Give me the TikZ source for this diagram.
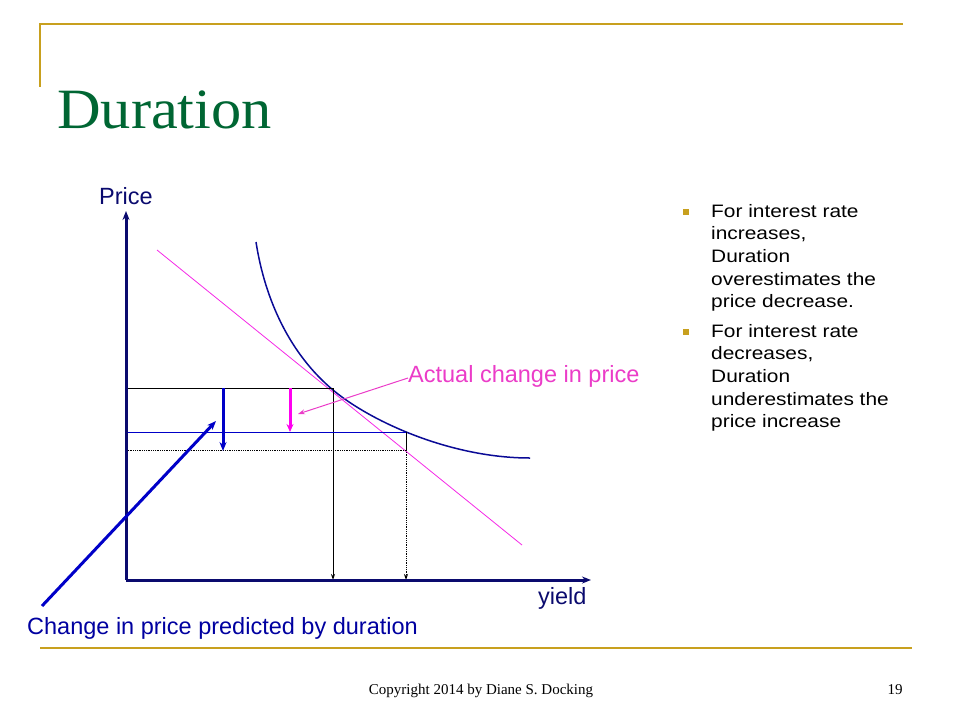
\documentclass[tikz,border=0pt]{standalone}
\usepackage{fontspec}
\setmainfont{Liberation Serif}
\newfontfamily\arialfont{Liberation Sans}
\newfontfamily\bulletfont[FakeStretch=1.16]{Liberation Sans}
\newfontfamily\titlefont[FakeStretch=1.06]{Liberation Serif}
\usetikzlibrary{arrows.meta}
\definecolor{gold}{RGB}{200,160,30}
\definecolor{titlegreen}{RGB}{0,102,51}
\definecolor{axisnavy}{RGB}{10,10,110}
\definecolor{curveblue}{RGB}{10,10,150}
\definecolor{brightblue}{RGB}{0,0,200}
\definecolor{labelblue}{RGB}{0,0,160}
\definecolor{pinkline}{RGB}{245,40,230}
\definecolor{labelpink}{RGB}{235,60,200}
\definecolor{magentaarrow}{RGB}{255,0,240}
\tikzset{
  goldline/.style={draw=gold, line width=2pt},
  axisline/.style={draw=axisnavy, line width=3pt, -{Stealth[length=9pt,width=7pt]}},
  guideline/.style={draw=black, line width=1pt},
  thinarrow/.style={-{Stealth[length=6pt,width=4pt]}},
  bluethick/.style={draw=brightblue, line width=3pt, -{Stealth[length=9pt,width=7pt]}},
  pinkthick/.style={draw=magentaarrow, line width=3pt, -{Stealth[length=8pt,width=7pt]}},
  lbl/.style={font=\arialfont\fontsize{23.5}{27}\selectfont, inner sep=0pt, anchor=base west},
  bullettext/.style={font=\bulletfont\fontsize{18}{22.7}\selectfont, inner sep=0pt, anchor=base west},
  bulletsq/.style={fill=gold, minimum size=6.5pt, inner sep=0pt},
}
\begin{document}
\begin{tikzpicture}[x=1pt,y=-1pt]
\useasboundingbox (0,0) rectangle (960,720);
% frame lines
\coordinate (tl) at (40,23.5);
\coordinate (tr) at (903,23.5);
\coordinate (lb) at (40,87);
\coordinate (bl) at (40,647.5);
\coordinate (br) at (912,647.5);
\draw[goldline] (tr) -- (tl) -- (lb);
\draw[goldline] (bl) -- (br);
% title
\node[font=\titlefont\fontsize{57}{60}\selectfont, text=titlegreen, inner sep=0pt, anchor=base west] (title) at (57,128) {Duration};
% axes
\coordinate (origin) at (126,580);
\coordinate (ytop) at (126,211);
\coordinate (xend) at (591,580);
% curve
\coordinate (cTop) at (256,242);
\coordinate (cMid) at (333,390);
\coordinate (cEnd) at (530,458);
\draw[curveblue, line width=1.5pt] (cTop) .. controls (265,300) and (290,354) .. (cMid)
   .. controls (370,421) and (450,458) .. (cEnd);
% tangent line
\coordinate (tanA) at (157,250);
\coordinate (tanB) at (522,545);
\draw[pinkline, line width=0.8pt] (tanA) -- (tanB);
% guide lines
\coordinate (p1l) at (126,388);
\coordinate (p1) at (333,388);
\coordinate (p1b) at (333,580);
\coordinate (p2l) at (126,432);
\coordinate (p2) at (406,432);
\coordinate (p3) at (406,450);
\coordinate (p3l) at (126,450);
\coordinate (p3b) at (406,580);
\draw[guideline] (p1l) -- (p1);
\draw[guideline, thinarrow] (p1) -- (p1b);
\draw[draw=brightblue, line width=1pt] (p2l) -- (p2);
\draw[guideline] (p2) -- (p3);
\draw[black, line width=0.8pt, densely dotted] (p3l) -- (p3);
\draw[black, line width=0.8pt, densely dotted, thinarrow] (p3) -- (p3b);
\draw[axisline] (origin) -- (ytop);
\draw[axisline] (origin) -- (xend);
% change arrows
\coordinate (dA) at (223,388);
\coordinate (dB) at (223,451);
\draw[bluethick] (dA) -- (dB);
\coordinate (aA) at (290,388);
\coordinate (aB) at (290,432);
\draw[pinkthick] (aA) -- (aB);
% labels
\node[lbl, text=axisnavy] (price) at (99,204) {Price};
\node[lbl, text=axisnavy] (yield) at (538,604) {yield};
\node[lbl, text=labelpink] (actual) at (408,382) {Actual change in price};
\node[lbl, text=labelblue] (predicted) at (27,634) {Change in price predicted by duration};
\coordinate (actTip) at (298,414);
\coordinate (actStart) at (408,378);
\draw[labelpink, line width=1pt, -{Stealth[length=7pt,width=5pt]}] (actStart) -- (actTip);
\coordinate (predStart) at (42,606);
\coordinate (predTip) at (216,421);
\draw[bluethick] (predStart) -- (predTip);
% bullets
\node[bulletsq] (b1) at (686,212) {};
\node[bulletsq] (b2) at (686,332) {};
\node[bullettext] (t1) at (711,217) {\parbox[t]{220pt}{\raggedright For interest rate\\increases,\\Duration\\overestimates the\\price decrease.}};
\node[bullettext] (t2) at (711,337) {\parbox[t]{220pt}{\raggedright For interest rate\\decreases,\\Duration\\underestimates the\\price increase}};
% footer
\node[font=\fontsize{15}{18}\selectfont, inner sep=0pt, anchor=base] (copy) at (481,694) {Copyright 2014 by Diane S. Docking};
\node[font=\fontsize{15}{18}\selectfont, inner sep=0pt, anchor=base] (page) at (895,694) {19};
\end{tikzpicture}
\end{document}
